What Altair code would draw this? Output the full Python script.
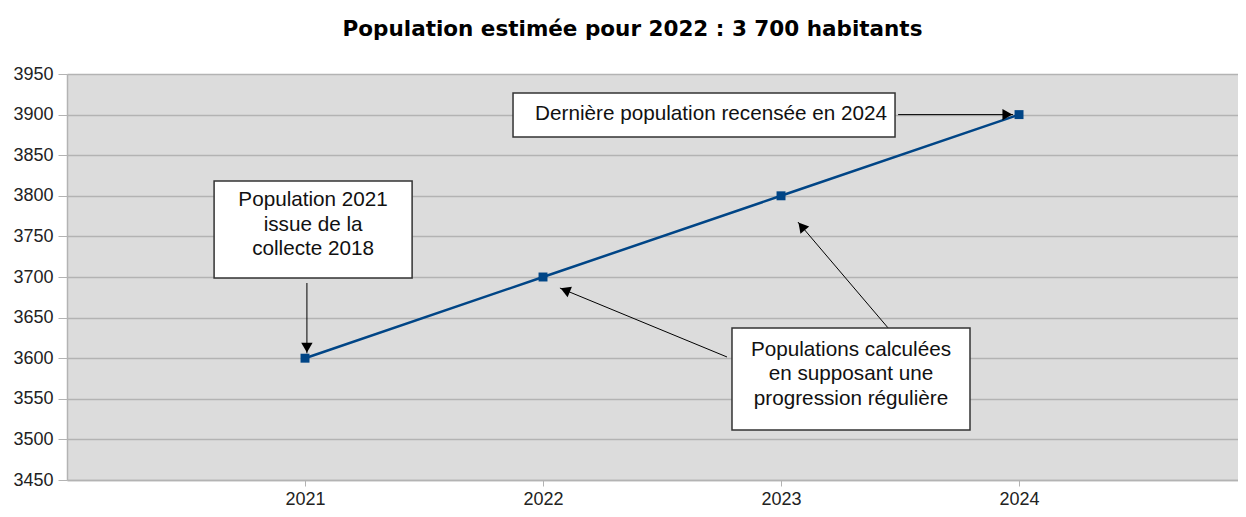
import math
import altair as alt
import pandas as pd

# ---- data ----
years = [2021, 2022, 2023, 2024]
population = [3600, 3700, 3800, 3900]

title_text = "Population estimée pour 2022 : 3 700 habitants"
y_ticks = [3450, 3500, 3550, 3600, 3650, 3700, 3750, 3800, 3850, 3900, 3950]

# annotation boxes (data coordinates)
box_x1 = [2020.618, 2021.874, 2022.794]
box_x2 = [2021.450, 2023.479, 2023.794]
box_y1 = [3818.2, 3926.6, 3637.2]
box_y2 = [3698.8, 3872.4, 3511.6]
box_text = [
    ["Population 2021", "issue de la", "collecte 2018"],
    ["Dernière population recensée en 2024"],
    ["Populations calculées", "en supposant une", "progression régulière"],
]
text_x = [2021.034, 2022.706, 2023.294]
text_y = [3794.8, 3900.7, 3610.1]

# arrows (tail -> tip, data coordinates)
arr_x1 = [2021.008, 2023.492, 2022.773, 2023.450]
arr_y1 = [3692.6, 3900.0, 3601.5, 3637.2]
arr_x2 = [2021.008, 2023.975, 2022.071, 2023.071]
arr_y2 = [3606.0, 3900.0, 3686.4, 3767.7]

# ---- layout ----
W, H = 1171, 406
XMIN, XMAX = 2020, 2024.92
YMIN, YMAX = 3450, 3950
kx = W / (XMAX - XMIN)
ky = H / (YMAX - YMIN)
HEAD = 130
off = math.sqrt(HEAD) / 2

FONT = "Liberation Sans"
LINE = "#004586"

xs = alt.Scale(domain=[XMIN, XMAX], nice=False, zero=False)
ys = alt.Scale(domain=[YMIN, YMAX], nice=False, zero=False)

df = pd.DataFrame({"year": years, "pop": population})

heads = []
for a, b, c, d in zip(arr_x1, arr_y1, arr_x2, arr_y2):
    dxp = (c - a) * kx
    dyp = -(d - b) * ky
    L = math.hypot(dxp, dyp)
    ux, uy = dxp / L, dyp / L
    ang = math.degrees(math.atan2(ux, -uy)) % 360
    heads.append({"hx": c - off * ux / kx, "hy": d + off * uy / ky, "ang": ang})
arrows = pd.DataFrame({"x1": arr_x1, "y1": arr_y1, "x2": arr_x2, "y2": arr_y2})
heads = pd.DataFrame(heads)
boxes = pd.DataFrame({"x1": box_x1, "x2": box_x2, "y1": box_y1, "y2": box_y2})
texts = pd.DataFrame({"tx": text_x, "ty": text_y, "label": box_text})

base = alt.Chart(df)

line = base.mark_line(color=LINE, strokeWidth=2.5).encode(
    x=alt.X("year:Q", scale=xs, title=None,
            axis=alt.Axis(values=years, format="d", grid=False, tickSize=6,
                          labelFontSize=18, labelPadding=4, domainColor="#b3b3b3",
                          domainWidth=1.5, tickColor="#b3b3b3", labelColor="#222222",
                          labelFont=FONT)),
    y=alt.Y("pop:Q", scale=ys, title=None,
            axis=alt.Axis(values=y_ticks, format="d", grid=True, gridColor="#b3b3b3",
                          gridWidth=1.5, tickSize=9, tickColor="#b3b3b3",
                          domainColor="#b3b3b3", domainWidth=1.5, labelFontSize=18,
                          labelPadding=5, labelColor="#222222", labelFont=FONT)),
)
pts = base.mark_square(color=LINE, size=80, opacity=1).encode(
    x=alt.X("year:Q", scale=xs), y=alt.Y("pop:Q", scale=ys)
)

arrow_lines = alt.Chart(arrows).mark_rule(color="#000000", strokeWidth=1).encode(
    x=alt.X("x1:Q", scale=xs), y=alt.Y("y1:Q", scale=ys), x2="x2:Q", y2="y2:Q"
)
arrow_heads = alt.Chart(heads).mark_point(
    shape="triangle-up", filled=True, color="#000000", size=HEAD, opacity=1
).encode(
    x=alt.X("hx:Q", scale=xs), y=alt.Y("hy:Q", scale=ys), angle=alt.Angle("ang:Q", scale=None)
)

box_marks = alt.Chart(boxes).mark_rect(fill="white", stroke="#333333", strokeWidth=1.5).encode(
    x=alt.X("x1:Q", scale=xs), x2="x2:Q", y=alt.Y("y1:Q", scale=ys), y2="y2:Q"
)
text_marks = alt.Chart(texts).mark_text(
    font=FONT, fontSize=20.7, color="#111111", align="center", baseline="middle", lineHeight=24.5
).encode(
    x=alt.X("tx:Q", scale=xs), y=alt.Y("ty:Q", scale=ys), text="label"
)

chart = alt.layer(line, pts, arrow_lines, arrow_heads, box_marks, text_marks).properties(
    width=W, height=H,
    title=alt.TitleParams(title_text, font="DejaVu Sans", fontSize=21.5, fontWeight="bold",
                          color="#000000", anchor="middle", offset=25, dx=-20),
    autosize=alt.AutoSizeParams(type="none"),
    padding={"left": 59, "top": 66, "right": 0, "bottom": 29},
).configure_view(fill="#dcdcdc", stroke=None)

chart.save("out.html", embed_options={"renderer": "svg", "actions": False})
